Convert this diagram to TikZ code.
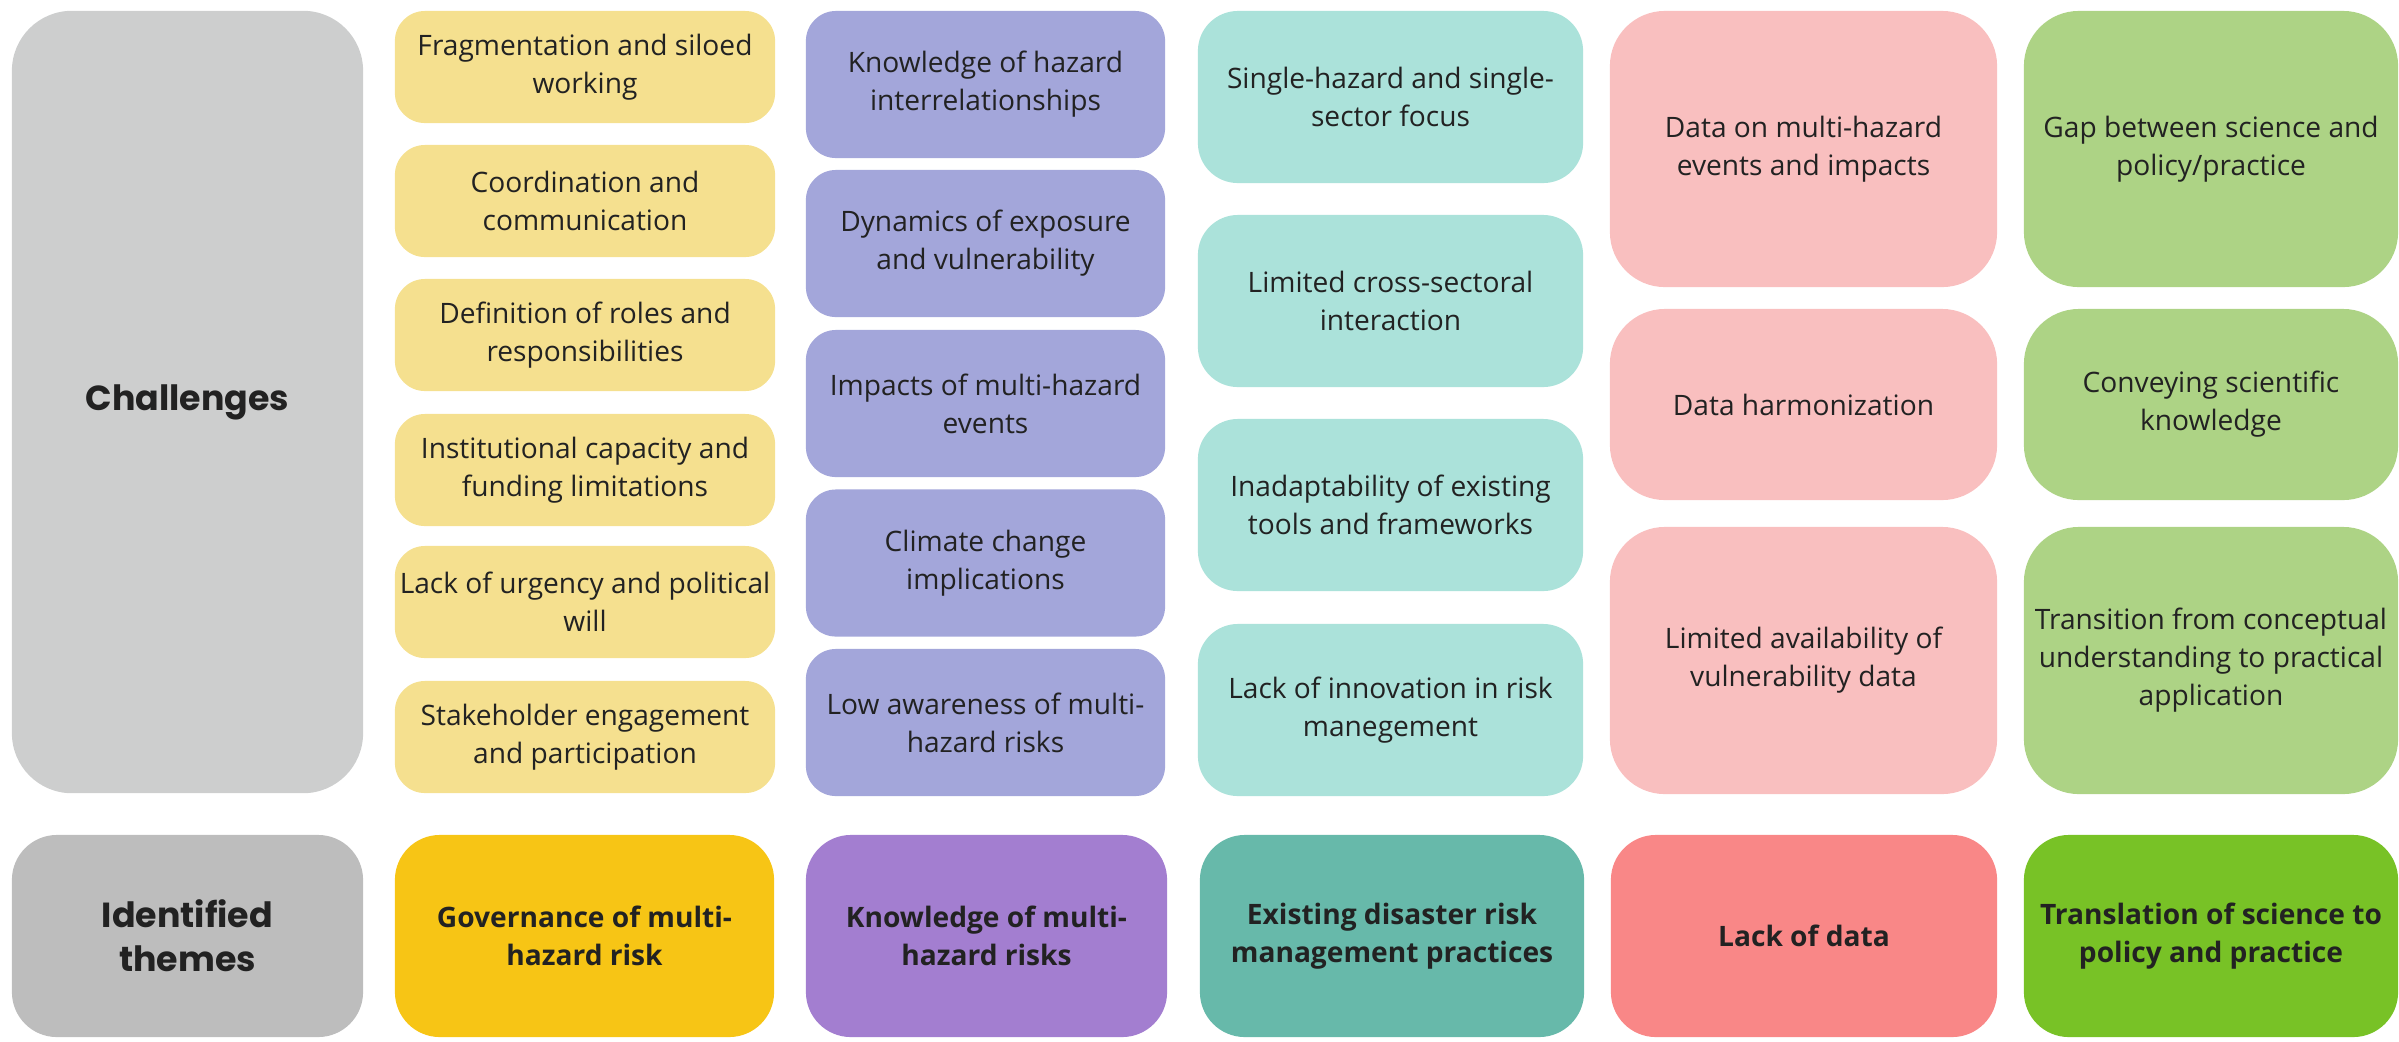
\documentclass[tikz,border=0pt]{standalone}
\usepackage{fontspec}
\setmainfont{Open Sans}
\newfontfamily\headfont{Poppins}

\definecolor{ink}{HTML}{222222}
\definecolor{chalgray}{HTML}{CDCECE}
\definecolor{themegray}{HTML}{BDBDBD}
\definecolor{govlight}{HTML}{F5E08F}
\definecolor{govdark}{HTML}{F7C515}
\definecolor{knowlight}{HTML}{A3A6DA}
\definecolor{knowdark}{HTML}{A37ED0}
\definecolor{drmlight}{HTML}{ABE2DA}
\definecolor{drmdark}{HTML}{67B9AA}
\definecolor{datalight}{HTML}{F9BFBF}
\definecolor{datadark}{HTML}{F98787}
\definecolor{scilight}{HTML}{ADD385}
\definecolor{scidark}{HTML}{78C226}

\begin{document}
\begin{tikzpicture}[x=0.01cm,y=-0.01cm,
    box/.style={rectangle,align=center,inner sep=0pt,text=ink,
                font=\fontsize{8}{10.8}\selectfont},
    head/.style={box,fill=#1,minimum width=3.51cm,
                 font=\headfont\bfseries\fontsize{9.9}{12.6}\selectfont},
    theme/.style={box,fill=#1,minimum height=2.02cm,rounded corners=0.45cm,
                  font=\bfseries\fontsize{8}{10.8}\selectfont},
    gov/.style={box,fill=govlight,minimum width=3.80cm,minimum height=1.12cm,rounded corners=0.3cm},
    know/.style={box,fill=knowlight,minimum width=3.59cm,minimum height=1.47cm,rounded corners=0.3cm},
    drm/.style={box,fill=drmlight,minimum width=3.85cm,minimum height=1.72cm,rounded corners=0.4cm},
    data/.style={box,fill=datalight,minimum width=3.87cm,rounded corners=0.55cm},
    sci/.style={box,fill=scilight,minimum width=3.74cm,rounded corners=0.55cm}]
    \useasboundingbox (0,0) rectangle (2399,1041);

    % Row labels on the left
    \node[head=chalgray,minimum height=7.82cm,rounded corners=0.6cm] (chal) at (187.5,402) {Challenges};
    \node[head=themegray,minimum height=2.02cm,rounded corners=0.45cm] (themes) at (187.5,936) {Identified\\themes};

    % Governance column
    \node[gov] (g1) at (585,67) {Fragmentation and siloed\\working};
    \node[gov] (g2) at (585,201) {Coordination and\\communication};
    \node[gov] (g3) at (585,335) {Definition of roles and\\responsibilities};
    \node[gov] (g4) at (585,470) {Institutional capacity and\\funding limitations};
    \node[gov] (g5) at (585,602) {Lack of urgency and political\\will};
    \node[gov] (g6) at (585,737) {Stakeholder engagement\\and participation};
    \node[theme=govdark,minimum width=3.79cm] (gov) at (584.5,936) {Governance of multi-\\hazard risk};

    % Knowledge column
    \node[know] (k1) at (985.5,84.5) {Knowledge of hazard\\interrelationships};
    \node[know] (k2) at (985.5,243.5) {Dynamics of exposure\\and vulnerability};
    \node[know] (k3) at (985.5,403.5) {Impacts of multi-hazard\\events};
    \node[know] (k4) at (985.5,563) {Climate change\\implications};
    \node[know] (k5) at (985.5,722.5) {Low awareness of multi-\\hazard risks};
    \node[theme=knowdark,minimum width=3.61cm] (know) at (986.5,936) {Knowledge of multi-\\hazard risks};

    % Disaster risk management column
    \node[drm] (d1) at (1390.5,97) {Single-hazard and single-\\sector focus};
    \node[drm] (d2) at (1390.5,301) {Limited cross-sectoral\\interaction};
    \node[drm] (d3) at (1390.5,505) {Inadaptability of existing\\tools and frameworks};
    \node[drm] (d4) at (1390.5,710) {Lack of innovation in risk\\manegement};
    \node[theme=drmdark,minimum width=3.84cm] (drm) at (1392,936) {Existing disaster risk\\management practices};

    % Data column
    \node[data,minimum height=2.76cm] (a1) at (1803.5,149) {Data on multi-hazard\\events and impacts};
    \node[data,minimum height=1.91cm] (a2) at (1803.5,404.5) {Data harmonization};
    \node[data,minimum height=2.67cm] (a3) at (1803.5,660.5) {Limited availability of\\vulnerability data};
    \node[theme=datadark,minimum width=3.86cm] (data) at (1804,936) {Lack of data};

    % Science to policy column
    \node[sci,minimum height=2.76cm] (s1) at (2211,149) {Gap between science and\\policy/practice};
    \node[sci,minimum height=1.91cm] (s2) at (2211,404.5) {Conveying scientific\\knowledge};
    \node[sci,minimum height=2.67cm] (s3) at (2211,660.5) {Transition from conceptual\\understanding to practical\\application};
    \node[theme=scidark,minimum width=3.74cm] (sci) at (2211,936) {Translation of science to\\policy and practice};
\end{tikzpicture}
\end{document}
